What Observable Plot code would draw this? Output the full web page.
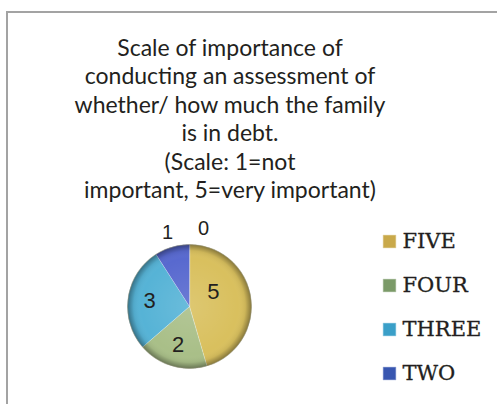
<!DOCTYPE html>
<html><head><meta charset="utf-8">
<script src="https://cdn.jsdelivr.net/npm/d3@7"></script>
<script src="https://cdn.jsdelivr.net/npm/@observablehq/plot@0.6"></script>
<style>
html,body{margin:0;padding:0;background:#fff;}
#root{position:relative;width:497px;height:404px;overflow:hidden;background:#fff;}
#frame{position:absolute;left:6px;top:11px;right:-10px;bottom:-10px;border-top:2px solid #a3a3a3;border-left:2px solid #a3a3a3;}
#title{position:absolute;left:30px;width:400px;top:33px;text-align:center;font-family:Lato,sans-serif;font-size:23px;line-height:28.4px;color:#231f20;white-space:nowrap;}
#pie{position:absolute;left:0;top:0;}
#legend{position:absolute;left:370px;top:215px;}
</style></head><body>
<div id="root"><div id="frame"></div><div id="title"></div><div id="pie"></div><div id="legend"></div></div>
<script>
const titleLines = [
  "Scale of importance of",
  "conducting an assessment of",
  "whether/ how much the family",
  "is in debt.",
  "(Scale: 1=not",
  "important, 5=very important)"
];
const categories = ["FIVE", "FOUR", "THREE", "TWO", "ONE"];
const values = [5, 2, 3, 1, 0];
const sliceColors = ["#d9c05e", "#a9bf88", "#56b3d6", "#5869cf", "#c05050"];
const legendCategories = ["FIVE", "FOUR", "THREE", "TWO"];
const legendColors = ["#c9a94a", "#7b9a68", "#3a9fc8", "#3856b0"];

document.getElementById("title").innerHTML = titleLines.join("<br>");

// pie geometry from the data
const arcs = d3.pie().sort(null).startAngle(0).endAngle(2 * Math.PI)(values);
const slices = arcs.map((a, i) => ({cat: categories[i], value: values[i], a0: a.startAngle, a1: a.endAngle, mid: (a.startAngle + a.endAngle) / 2}));
const pts = [];
for (const s of slices) {
  if (s.value <= 0) continue;
  pts.push({cat: s.cat, x: 0, y: 0});
  const n = Math.max(2, Math.ceil((s.a1 - s.a0) / (Math.PI / 180)));
  for (let k = 0; k <= n; ++k) {
    const a = s.a0 + (s.a1 - s.a0) * k / n;
    pts.push({cat: s.cat, x: Math.sin(a), y: Math.cos(a)});
  }
}
const total = d3.sum(values);
const labels = slices.map(s => {
  const outside = s.value / total < 0.1;
  const r = outside ? 1.25 : 0.65;
  return {cat: s.cat, text: String(s.value), outside, x: r * Math.sin(s.mid), y: r * Math.cos(s.mid)};
});
const font = "Liberation Sans, Arial, sans-serif";

const pie = Plot.plot({
  width: 497, height: 404, margin: 0,
  x: {domain: [-1, 1], range: [127, 251], axis: null},
  y: {domain: [-1, 1], range: [368, 244], axis: null},
  color: {domain: categories, range: sliceColors},
  style: {background: "transparent", overflow: "visible"},
  marks: [
    Plot.line(pts, {x: "x", y: "y", z: "cat", fill: "cat", stroke: "#ffffff", strokeOpacity: 0.35, strokeWidth: 0.8, curve: "linear-closed"}),
    Plot.dot([{x: 0, y: 0}], {x: "x", y: "y", r: 62, fill: "url(#bevel)", stroke: "#8a8a70", strokeOpacity: 0.5, strokeWidth: 1}),
    Plot.text(labels.filter(d => !d.outside && d.cat === "FIVE"), {x: "x", y: "y", text: "text", fontFamily: font, fontSize: 22, fill: "#231f20", dx: -16, dy: -9}),
    Plot.text(labels.filter(d => !d.outside && d.cat !== "FIVE"), {x: "x", y: "y", text: "text", fontFamily: font, fontSize: 22, fill: "#231f20"}),
    Plot.text(labels.filter(d => d.outside && d.cat === "TWO"), {x: "x", y: "y", text: "text", fontFamily: font, fontSize: 20, fill: "#231f20"}),
    Plot.text(labels.filter(d => d.outside && d.cat === "ONE"), {x: "x", y: "y", text: "text", fontFamily: font, fontSize: 20, fill: "#231f20", dx: 14})
  ]
});
const defs = d3.select(pie).insert("defs", ":first-child");
const g = defs.append("radialGradient").attr("id", "bevel");
[[0, "#ffffff", 0.12], [0.78, "#ffffff", 0], [0.9, "#000000", 0.06], [1, "#000000", 0.38]].forEach(([o, c, a]) =>
  g.append("stop").attr("offset", o).attr("stop-color", c).attr("stop-opacity", a));
document.getElementById("pie").append(pie);

const legend = Plot.plot({
  width: 127, height: 180, margin: 0,
  y: {type: "point", domain: legendCategories, range: [25, 158], padding: 0, axis: null},
  color: {domain: legendCategories, range: legendColors},
  style: {background: "transparent", overflow: "visible"},
  marks: [
    Plot.dot(legendCategories, {y: d => d, frameAnchor: "left", dx: 19, symbol: "square", r: 7.5, fill: d => d, stroke: "#ffffff", strokeOpacity: 0.4}),
    Plot.text(legendCategories, {y: d => d, text: d => d, frameAnchor: "left", dx: 32, textAnchor: "start", fontFamily: "DejaVu Serif", fontSize: 21, fill: "#231f20", stroke: "#231f20", strokeWidth: 0.3})
  ]
});
document.getElementById("legend").append(legend);
</script>
</body></html>
